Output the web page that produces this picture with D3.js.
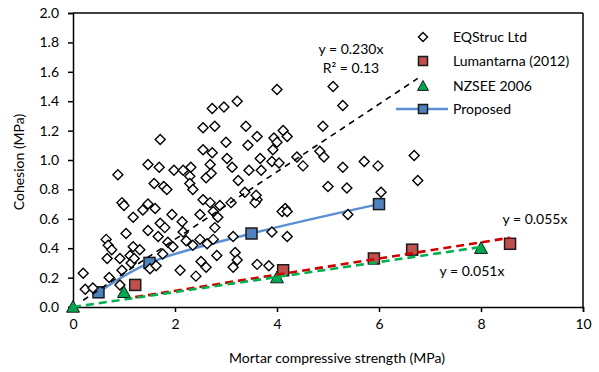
<!DOCTYPE html>
<html>
<head>
<meta charset="utf-8">
<script src="https://cdn.jsdelivr.net/npm/d3@7"></script>
<style>
  body { margin: 0; background: #fff; }
  text { font-family: Lato, "Open Sans", sans-serif; fill: #000; }
  .axis path, .axis line { stroke: #000; stroke-width: 1.5px; }
  .axis text { font-size: 14px; }
</style>
</head>
<body>
<svg id="chart" width="599" height="372"></svg>
<script>
// EQStruc Ltd test results (mortar strength MPa, cohesion MPa)
const eqX = [1.71,2.73,2.96,3.22,2.55,2.78,3.39,3.61,3.00,3.43,2.55,2.73,3.02,4.00,5.10,5.29,4.90,4.12,4.20,3.94,
  4.00,3.92,4.84,3.67,3.90,4.04,4.39,4.51,4.92,5.29,5.71,5.98,6.69,1.47,1.69,0.88,1.98,2.16,2.31,2.29,
  2.69,2.61,3.12,3.45,3.69,1.59,1.78,1.84,2.29,2.35,3.24,0.96,1.00,1.47,1.37,1.61,2.55,2.69,2.88,3.10,
  3.61,3.57,4.16,3.59,4.10,4.20,5.00,5.37,6.04,6.76,5.39,3.37,2.71,1.18,1.94,2.14,2.49,2.75,2.84,2.78,
  1.71,1.80,1.04,1.47,2.16,1.67,0.65,0.69,0.76,0.67,0.92,1.12,1.18,1.31,1.76,1.86,1.96,2.22,2.35,2.49,
  2.63,2.75,3.14,3.18,3.22,3.14,2.82,2.51,2.61,2.10,2.41,1.51,1.63,1.14,1.20,0.96,0.71,0.20,0.24,0.39,
  0.92,3.61,3.90,4.20,3.84];
const eqY = [1.14,1.35,1.36,1.40,1.22,1.23,1.23,1.16,1.12,1.10,1.07,1.05,1.01,1.48,1.50,1.37,1.23,1.20,1.16,1.15,
  1.12,1.07,1.06,1.01,0.99,0.98,1.02,0.96,1.02,0.95,0.99,0.96,1.03,0.97,0.95,0.90,0.93,0.93,0.95,0.89,
  0.97,0.88,0.95,0.93,0.93,0.84,0.82,0.80,0.84,0.80,0.86,0.71,0.69,0.70,0.66,0.67,0.73,0.71,0.69,0.71,
  0.73,0.71,0.67,0.76,0.65,0.65,0.82,0.81,0.78,0.86,0.63,0.78,0.91,0.61,0.63,0.58,0.63,0.65,0.61,0.54,
  0.57,0.54,0.50,0.52,0.51,0.48,0.46,0.42,0.39,0.33,0.33,0.35,0.41,0.39,0.36,0.44,0.41,0.45,0.42,0.46,
  0.43,0.46,0.48,0.37,0.32,0.27,0.35,0.31,0.27,0.25,0.21,0.26,0.28,0.30,0.33,0.25,0.20,0.23,0.12,0.13,
  0.15,0.29,0.51,0.48,0.28];

const lumX = [1.22,4.12,5.90,6.65,8.57];
const lumY = [0.15,0.25,0.33,0.39,0.43];

const nzX = [0,1,4,8];
const nzY = [0,0.1,0.2,0.4];

const propX = [0.5,1.5,3.5,6];
const propY = [0.1,0.3,0.5,0.7];

// trendlines through origin: slope, x range
const trendSlope = [0.230, 0.055, 0.051];
const trendFrom = [0.2, 1.22, 0];
const trendTo = [6.76, 8.57, 8];

const legendNames = ["EQStruc Ltd", "Lumantarna (2012)", "NZSEE 2006", "Proposed"];
const xTicks = [0,2,4,6,8,10];
const yTicks = [0,0.2,0.4,0.6,0.8,1.0,1.2,1.4,1.6,1.8,2.0];

let svg = d3.select("#chart");
svg.append("rect").attr("width",599).attr("height",372).attr("fill","#fff");

let xScale = d3.scaleLinear().domain([0,10]).range([73,583]);
let yScale = d3.scaleLinear().domain([0,2]).range([307,13]);

// frame
svg.append("line").attr("x1",xScale(0)).attr("x2",xScale(10)).attr("y1",yScale(2)).attr("y2",yScale(2))
  .attr("stroke","#000").attr("stroke-width",1.5);
svg.append("line").attr("x1",xScale(10)).attr("x2",xScale(10)).attr("y1",yScale(2)).attr("y2",yScale(0))
  .attr("stroke","#000").attr("stroke-width",1.5);

svg.append("g").attr("class","axis")
  .attr("transform","translate(0,"+yScale(0)+")")
  .call(d3.axisBottom(xScale).tickValues(xTicks).tickSize(5).tickPadding(7).tickFormat(d3.format("d")));
svg.append("g").attr("class","axis")
  .attr("transform","translate("+xScale(0)+",0)")
  .call(d3.axisLeft(yScale).tickValues(yTicks).tickSize(5).tickPadding(9).tickFormat(d3.format(".1f")));

svg.append("text").attr("x",337).attr("y",363).attr("text-anchor","middle")
  .style("font-size","14px").text("Mortar compressive strength (MPa)");
svg.append("text").attr("transform","translate(24,162) rotate(-90)").attr("text-anchor","middle")
  .style("font-size","14px").text("Cohesion (MPa)");

// Proposed line
const propData = propX.map((d,i) => ({x:d, y:propY[i]}));
svg.append("path").datum(propData)
  .attr("d", d3.line().x(d => xScale(d.x)).y(d => yScale(d.y)).curve(d3.curveCatmullRom.alpha(0.5)))
  .attr("fill","none").attr("stroke","#5b8fd4").attr("stroke-width",2.5);

function square(g, cx, cy, r, fill) {
  g.append("rect").attr("x",cx-r).attr("y",cy-r).attr("width",2*r).attr("height",2*r)
    .attr("fill",fill).attr("stroke","#1a1a1a").attr("stroke-width",1.5);
}
function triangle(g, cx, cy, r, fill) {
  g.append("path").attr("d","M"+cx+","+(cy-r)+"L"+(cx+r)+","+(cy+r*0.8)+"L"+(cx-r)+","+(cy+r*0.8)+"Z")
    .attr("fill",fill).attr("stroke","#1a1a1a").attr("stroke-width",1);
}
function diamond(g, cx, cy, r) {
  g.append("path").attr("d","M"+cx+","+(cy-r)+"L"+(cx+r)+","+cy+"L"+cx+","+(cy+r)+"L"+(cx-r)+","+cy+"Z")
    .attr("fill","#fff").attr("stroke","#000").attr("stroke-width",1.4);
}

let marks = svg.append("g");
propX.forEach((d,i) => square(marks, xScale(d), yScale(propY[i]), 5.5, "#4f81bd"));
eqX.forEach((d,i) => diamond(marks, xScale(d), yScale(eqY[i]), 5));
lumX.forEach((d,i) => square(marks, xScale(d), yScale(lumY[i]), 5.5, "#c0504d"));
nzX.forEach((d,i) => triangle(marks, xScale(d), yScale(nzY[i]), 6.5, "#00a650"));

// trendlines
const trendColor = ["#000","#d00000","#00b050"];
const trendWidth = [1.6,2.6,2.6];
const trendDash = ["6,5","8,5","8,5"];
trendSlope.forEach((s,i) => {
  svg.append("line")
    .attr("x1",xScale(trendFrom[i])).attr("y1",yScale(s*trendFrom[i]))
    .attr("x2",xScale(trendTo[i])).attr("y2",yScale(s*trendTo[i]))
    .attr("stroke",trendColor[i]).attr("stroke-width",trendWidth[i]).attr("stroke-dasharray",trendDash[i]);
});

svg.append("text").attr("x",351).attr("y",54).attr("text-anchor","middle").style("font-size","14px").text("y = 0.230x");
svg.append("text").attr("x",351).attr("y",73).attr("text-anchor","middle").style("font-size","14px").text("R² = 0.13");
svg.append("text").attr("x",535).attr("y",224).attr("text-anchor","middle").style("font-size","14px").text("y = 0.055x");
svg.append("text").attr("x",472).attr("y",276).attr("text-anchor","middle").style("font-size","14px").text("y = 0.051x");

// legend
let leg = svg.append("g");
const legY = [37,61,86,109];
leg.append("line").attr("x1",396).attr("x2",448).attr("y1",legY[3]).attr("y2",legY[3])
  .attr("stroke","#5b8fd4").attr("stroke-width",2.5);
diamond(leg, 423, legY[0], 4.5);
square(leg, 423, legY[1], 4.5, "#c0504d");
triangle(leg, 423, legY[2], 5.5, "#00a650");
square(leg, 423, legY[3], 4.5, "#4f81bd");
legendNames.forEach((n,i) => {
  leg.append("text").attr("x",453).attr("y",legY[i]+5).style("font-size","14px").text(n);
});
</script>
</body>
</html>
